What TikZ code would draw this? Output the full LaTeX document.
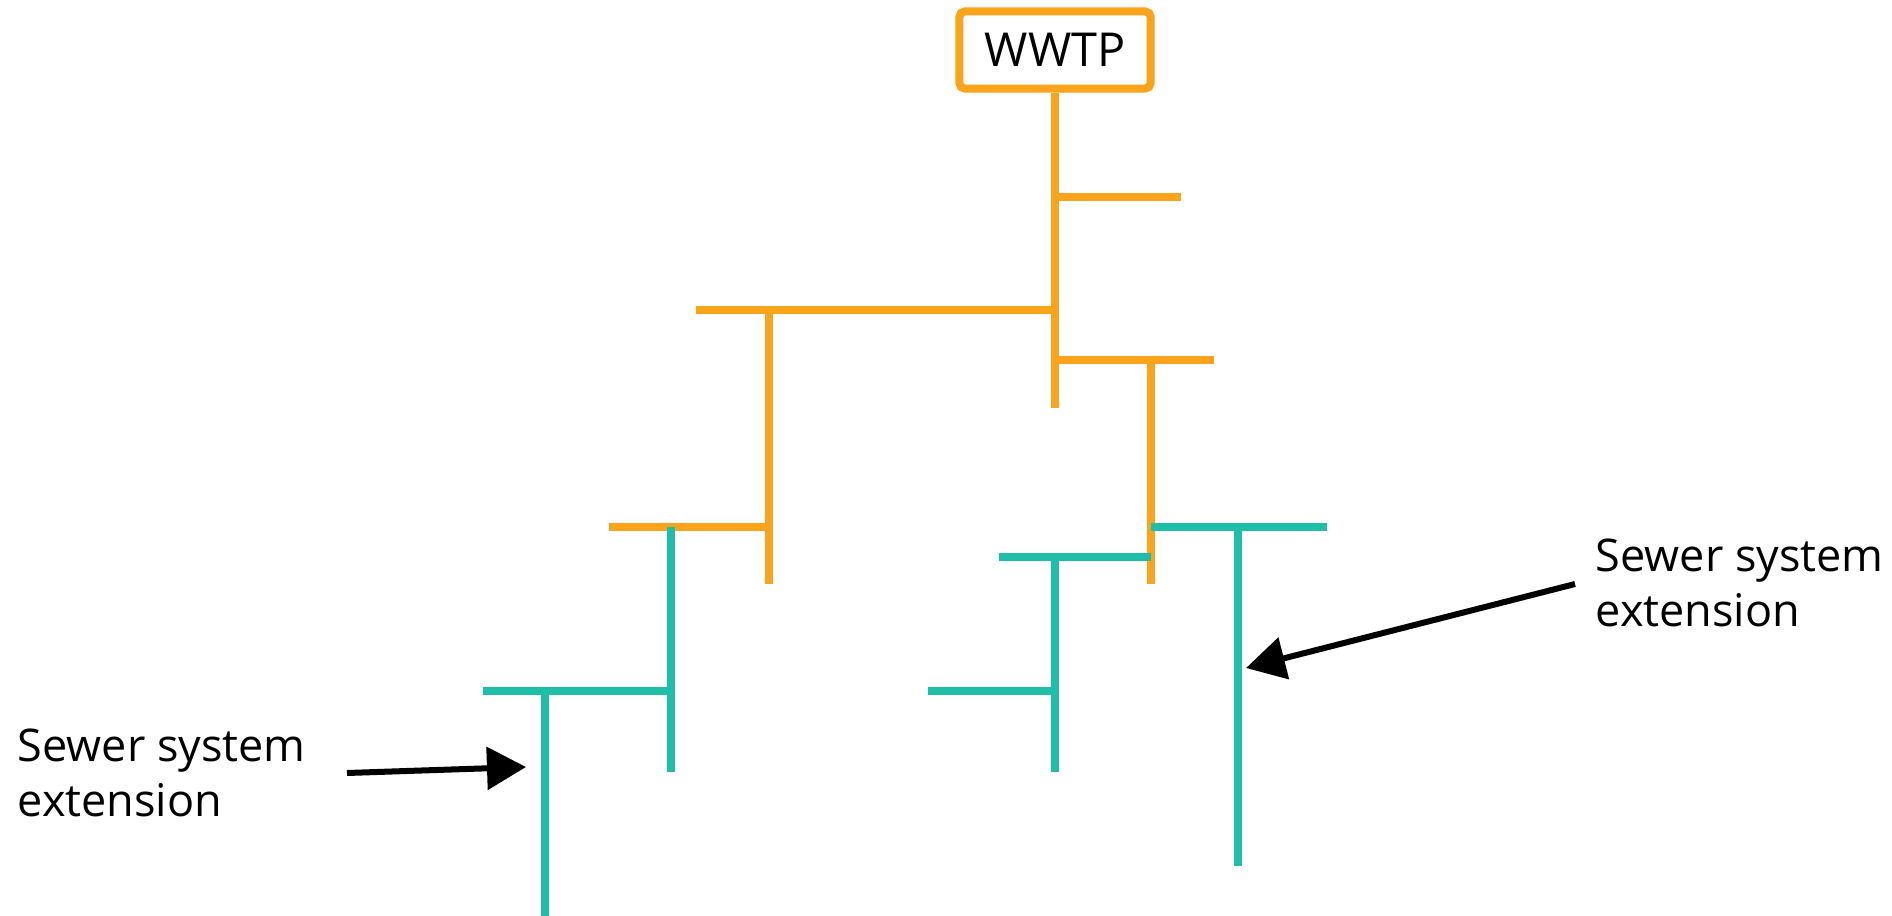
\documentclass[tikz,border=0pt]{standalone}
\usepackage{fontspec}
\setmainfont{Open Sans}
\usepackage{tikz}
\usetikzlibrary{arrows.meta}

\definecolor{pipeorange}{RGB}{249,164,27}
\definecolor{pipeteal}{RGB}{30,190,168}

\tikzset{
    oldpipe/.style={draw=pipeorange, line width=0.08cm},
    newpipe/.style={draw=pipeteal, line width=0.08cm},
    pointer/.style={draw=black, line width=0.06cm, -{Triangle[length=0.39cm, width=0.42cm]}},
    label/.style={align=left, inner sep=0pt, font=\fontsize{12.8}{15.6}\selectfont}
}

\begin{document}
\begin{tikzpicture}[x=0.01cm, y=-0.01cm]
        \useasboundingbox (0,0) rectangle (1892,916);

        \node[draw=pipeorange, line width=0.08cm, rounded corners=1.5pt, minimum width=1.91cm, minimum height=0.77cm, inner sep=0pt, font=\fontsize{13.3}{16}\selectfont] (wwtp) at (1055,50) {WWTP};

        \coordinate (trunkend) at (1055,408);
        \coordinate (jA) at (1055,197);
        \coordinate (endA) at (1181,197);
        \coordinate (jB) at (1055,310);
        \coordinate (endB) at (696,310);
        \coordinate (jC) at (1055,360);
        \coordinate (endC) at (1214,360);
        \coordinate (topB) at (769,310);
        \coordinate (botB) at (769,584);
        \coordinate (topC) at (1151,360);
        \coordinate (botC) at (1151,584);
        \coordinate (jD) at (769,527);
        \coordinate (endD) at (609,527);

        \draw[oldpipe] (wwtp.south) -- (trunkend);
        \draw[oldpipe] (jA) -- (endA);
        \draw[oldpipe] (jB) -- (endB);
        \draw[oldpipe] (jC) -- (endC);
        \draw[oldpipe] (topB) -- (botB);
        \draw[oldpipe] (topC) -- (botC);
        \draw[oldpipe] (jD) -- (endD);

        \coordinate (topE) at (671,527);
        \coordinate (botE) at (671,772);
        \coordinate (jE) at (671,691);
        \coordinate (endE) at (483,691);
        \coordinate (topF) at (545,691);
        \coordinate (botF) at (545,916);
        \coordinate (jG) at (1151,557);
        \coordinate (endG) at (999,557);
        \coordinate (topG) at (1055,557);
        \coordinate (botG) at (1055,772);
        \coordinate (jH) at (1055,691);
        \coordinate (endH) at (928,691);
        \coordinate (jK) at (1151,527);
        \coordinate (endK) at (1327,527);
        \coordinate (topK) at (1238,527);
        \coordinate (botK) at (1238,866);

        \draw[newpipe] (topE) -- (botE);
        \draw[newpipe] (jE) -- (endE);
        \draw[newpipe] (topF) -- (botF);
        \draw[newpipe] (jG) -- (endG);
        \draw[newpipe] (topG) -- (botG);
        \draw[newpipe] (jH) -- (endH);
        \draw[newpipe] (jK) -- (endK);
        \draw[newpipe] (topK) -- (botK);

        \node[label, anchor=north west] (leftnote) at (17,728) {Sewer system\\extension};
        \node[label, anchor=north west] (rightnote) at (1595,538) {Sewer system\\extension};

        \coordinate (leftfrom) at (347,773);
        \coordinate (leftto) at (526,767);
        \coordinate (rightfrom) at (1575,584);
        \coordinate (rightto) at (1246,668);

        \draw[pointer] (leftfrom) -- (leftto);
        \draw[pointer] (rightfrom) -- (rightto);
    \end{tikzpicture}
\end{document}
